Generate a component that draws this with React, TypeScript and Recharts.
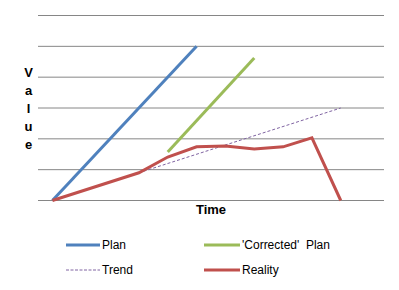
import React from "react";
import { LineChart, Line, XAxis, YAxis, CartesianGrid } from "recharts";

const periods = [0, 1, 2, 3, 4, 5, 6, 7, 8, 9, 10, 11];
const plan: (number | null)[] = [0, null, null, null, null, 5.0, null, null, null, null, null, null];
const corrected: (number | null)[] = [null, null, null, null, 1.57, null, null, 4.62, null, null, null, null];
const trend: (number | null)[] = [null, null, null, 0.9, null, null, null, null, null, null, 3.0, null];
const reality: (number | null)[] = [0, null, null, 0.9, 1.41, 1.74, 1.77, 1.67, 1.74, 2.03, 0, null];
const yTicks = [0, 1, 2, 3, 4, 5, 6];

const data = periods.map((t, i) => ({
  t,
  plan: plan[i],
  corrected: corrected[i],
  trend: trend[i],
  reality: reality[i],
}));

const BLUE = "#4F81BD";
const GREEN = "#9BBB59";
const RED = "#C0504D";
const PURPLE = "#8064A2";

const font = "'Liberation Sans', Arial, sans-serif";

function LegendItem({ x, y, color, dashed, label, lineW }: { x: number; y: number; color: string; dashed?: boolean; label: string; lineW: number }) {
  return (
    <div style={{ position: "absolute", left: x, top: y - 8, height: 16, display: "flex", alignItems: "center" }}>
      <svg width={lineW} height={16} style={{ display: "block" }}>
        <line x1={0} x2={lineW} y1={8} y2={8} stroke={color} strokeWidth={dashed ? 1 : 3} strokeDasharray={dashed ? "3 1.5" : undefined} />
      </svg>
      <span style={{ fontFamily: font, fontSize: 12, color: "#000", marginLeft: 2, whiteSpace: "pre", lineHeight: "16px" }}>{label}</span>
    </div>
  );
}

export default function App() {
  const letters = ["V", "a", "l", "u", "e"];
  return (
    <div style={{ position: "absolute", left: 0, top: 0, width: 399, height: 290, background: "#fff" }}>
      <LineChart width={399} height={290} data={data} margin={{ top: 15.5, right: 15, bottom: 89.5, left: 38 }}>
        <CartesianGrid vertical={false} stroke="#868686" strokeWidth={1} />
        <XAxis type="number" dataKey="t" domain={[-0.5, 11.5]} hide />
        <YAxis type="number" domain={[0, 6]} ticks={yTicks} hide />
        <Line dataKey="trend" stroke={PURPLE} strokeWidth={1} strokeDasharray="3 2" dot={false} connectNulls isAnimationActive={false} />
        <Line dataKey="plan" stroke={BLUE} strokeWidth={3} dot={false} connectNulls isAnimationActive={false} />
        <Line dataKey="corrected" stroke={GREEN} strokeWidth={3} dot={false} connectNulls isAnimationActive={false} />
        <Line dataKey="reality" stroke={RED} strokeWidth={3} dot={false} connectNulls isAnimationActive={false} />
      </LineChart>
      <svg width={399} height={290} style={{ position: "absolute", left: 0, top: 0, pointerEvents: "none" }}>
        {letters.map((ch, i) => (
          <text key={i} x={28.5} y={77 + i * 18} textAnchor="middle" fontFamily={font} fontWeight="bold" fontSize={13} fill="#000">
            {ch}
          </text>
        ))}
        <text x={211} y={214} textAnchor="middle" fontFamily={font} fontWeight="bold" fontSize={13} fill="#000">
          Time
        </text>
      </svg>
      <LegendItem x={66} y={245} color={BLUE} label="Plan" lineW={34} />
      <LegendItem x={204} y={245} color={GREEN} label="'Corrected'  Plan" lineW={36} />
      <LegendItem x={66} y={270} color={PURPLE} dashed label="Trend" lineW={34} />
      <LegendItem x={204} y={270} color={RED} label="Reality" lineW={36} />
    </div>
  );
}
